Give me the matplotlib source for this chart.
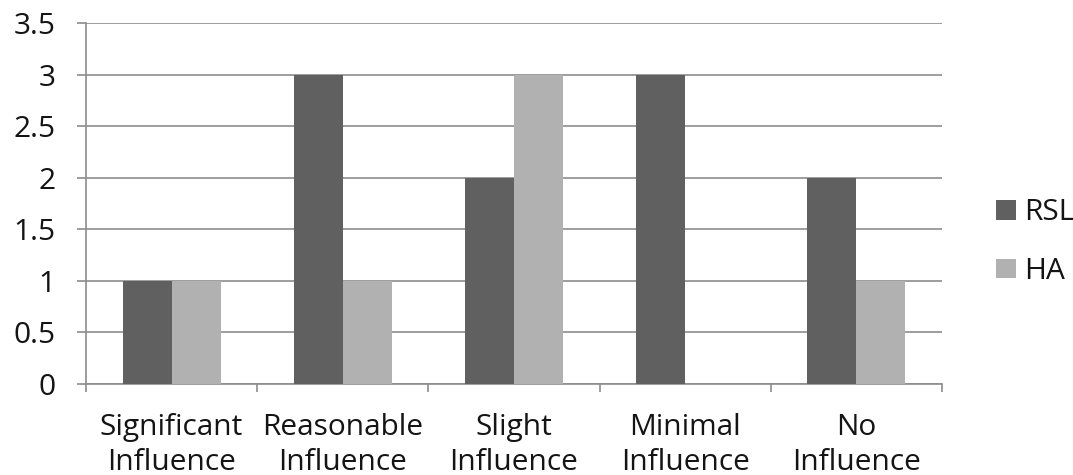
import matplotlib
matplotlib.use("Agg")
import matplotlib.pyplot as plt
import numpy as np

categories = ["Significant\nInfluence", "Reasonable\nInfluence", "Slight\nInfluence",
              "Minimal\nInfluence", "No\nInfluence"]
rsl = [1, 3, 2, 3, 2]
ha = [1, 1, 3, 0, 1]
yticks = [0, 0.5, 1, 1.5, 2, 2.5, 3, 3.5]
ytick_labels = ["0", "0.5", "1", "1.5", "2", "2.5", "3", "3.5"]

plt.rcParams['font.family'] = ['Open Sans', 'DejaVu Sans']
FS = 21.5

fig = plt.figure(figsize=(10.73, 4.75), dpi=100)
ax = fig.add_axes([0.0801, 0.1916, 0.7978, 0.7600])

x = np.arange(len(categories))
w = 0.286
ax.bar(x - w / 2, rsl, width=w, color="#606060", label="RSL", zorder=3)
ax.bar(x + w / 2, ha, width=w, color="#b1b1b1", label="HA", zorder=3)

ax.set_xlim(-0.5, len(categories) - 0.5)
ax.set_ylim(0, 3.5)
ax.set_yticks(yticks)
ax.set_yticklabels(ytick_labels)
ax.set_xticks(x)
ax.set_xticklabels(categories, linespacing=1.25)
ax.set_xticks(np.arange(-0.5, len(categories), 1.0), minor=True)

gc = "#8c8c8c"
ax.yaxis.grid(True, color=gc, linewidth=1.2, zorder=0)
ax.set_axisbelow(True)
for s in ["top", "right"]:
    ax.spines[s].set_visible(False)
for s in ["left", "bottom"]:
    ax.spines[s].set_color(gc)
    ax.spines[s].set_linewidth(1.2)

ax.tick_params(axis="y", length=6.5, width=1.2, color=gc, pad=15.5, labelsize=FS, labelcolor="#141414")
ax.tick_params(axis="x", which="major", length=0, pad=21, labelsize=FS, labelcolor="#141414")
ax.tick_params(axis="x", which="minor", length=6, width=1.2, color=gc)

leg = ax.legend(loc="center left", bbox_to_anchor=(1.063, 0.393), frameon=False,
                fontsize=FS, handlelength=0.67, handleheight=0.64,
                handletextpad=0.27, labelspacing=1.0, borderpad=0, borderaxespad=0)
for t in leg.get_texts():
    t.set_color("#141414")

fig.savefig("out.png", dpi=100)
